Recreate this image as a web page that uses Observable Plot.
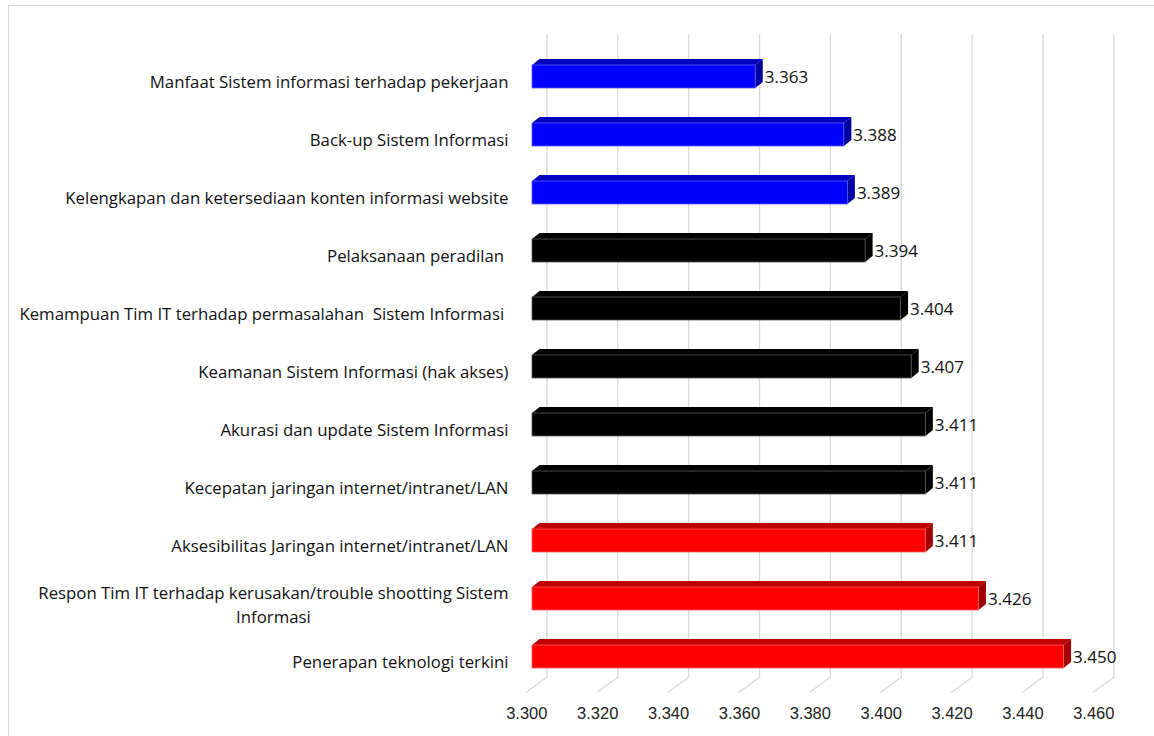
<!DOCTYPE html>
<html>
<head>
<meta charset="utf-8">
<script src="https://cdn.jsdelivr.net/npm/d3@7"></script>
<script src="https://cdn.jsdelivr.net/npm/@observablehq/plot@0.6"></script>
<style>
  html, body { margin: 0; padding: 0; background: #fff; }
  #wrap { position: relative; width: 1154px; height: 736px; overflow: hidden; }
  #border { position: absolute; left: 8px; top: 5px; width: 1200px; height: 800px;
            border-top: 1.5px solid #d9d9d9; border-left: 1.5px solid #d9d9d9; }
  #chart { position: absolute; left: 0; top: 0; }
</style>
</head>
<body>
<div id="wrap"><div id="border"></div><div id="chart"></div></div>
<script>
// ---- data ----
const categories = [
  "Manfaat Sistem informasi terhadap pekerjaan",
  "Back-up Sistem Informasi",
  "Kelengkapan dan ketersediaan konten informasi website",
  "Pelaksanaan peradilan\u00a0",
  "Kemampuan Tim IT terhadap permasalahan \u00a0Sistem Informasi\u00a0",
  "Keamanan Sistem Informasi (hak akses)",
  "Akurasi dan update Sistem Informasi",
  "Kecepatan jaringan internet/intranet/LAN",
  "Aksesibilitas Jaringan internet/intranet/LAN",
  "Respon Tim IT terhadap kerusakan/trouble shootting Sistem\nInformasi",
  "Penerapan teknologi terkini"
];
const values = [3.363, 3.388, 3.389, 3.394, 3.404, 3.407, 3.411, 3.411, 3.411, 3.426, 3.450];
const groups = ["biru", "biru", "biru", "hitam", "hitam", "hitam", "hitam", "hitam", "merah", "merah", "merah"];
const xTicks = [3.300, 3.320, 3.340, 3.360, 3.380, 3.400, 3.420, 3.440, 3.460];

const rows = categories.map((label, i) => ({label, value: values[i], group: groups[i], base: xTicks[0]}));
const fmt = d3.format(".3f");

// 3D effect for bars: top face + side face drawn from the rendered rects
const DX = 7.5, DY = 6;
function bars3d(index, scales, vals, dimensions, context, next) {
  const g = next(index, scales, vals, dimensions, context);
  const ns = "http://www.w3.org/2000/svg";
  for (const r of Array.from(g.querySelectorAll("rect"))) {
    const x = +r.getAttribute("x"), y = +r.getAttribute("y");
    const w = +r.getAttribute("width"), h = +r.getAttribute("height");
    const c = r.getAttribute("fill");
    const top = document.createElementNS(ns, "polygon");
    top.setAttribute("points", `${x},${y} ${x + DX},${y - DY} ${x + w + DX},${y - DY} ${x + w},${y}`);
    top.setAttribute("fill", d3.color(c).darker(0.8).formatHex());
    const side = document.createElementNS(ns, "polygon");
    side.setAttribute("points", `${x + w},${y} ${x + w + DX},${y - DY} ${x + w + DX},${y + h - DY} ${x + w},${y + h}`);
    side.setAttribute("fill", d3.color(c).darker(1.3).formatHex());
    g.insertBefore(top, r);
    g.insertBefore(side, r);
    r.setAttribute("stroke", d3.interpolateRgb(c, "#fff")(0.35));
    r.setAttribute("stroke-width", 0.8);
  }
  return g;
}

// measure first line width of wrapped labels
const CAT_SIZE = 16.8;
const ctx = document.createElement("canvas").getContext("2d");
ctx.font = `${CAT_SIZE}px 'Open Sans'`;
function lineWidth(s) { return ctx.measureText(s).width; }

const single = rows.filter(d => !d.label.includes("\n"));
const multi = rows.filter(d => d.label.includes("\n"));
const LABEL_GAP = -24;

const noHead = {draw(context, l) { context.moveTo(0, 0); context.lineTo(0, -l); }};

const marks = [
  Plot.ruleX(xTicks, {x: d => d, dx: 14.4, insetTop: 6, insetBottom: 28.3, stroke: "#d9d9d9", strokeWidth: 1.3}),
  Plot.vector(xTicks, {x: d => d, frameAnchor: "bottom", dx: -6.3, dy: -13.3, length: 25.6, rotate: 54,
                       anchor: "start", shape: noHead, stroke: "#d9d9d9", strokeWidth: 1.3}),
  Plot.barX(rows, {x1: "base", x2: "value", y: "label", fill: "group", render: bars3d}),
  Plot.text(rows, {x: "value", y: "label", text: d => fmt(d.value), dx: DX + 1.5, dy: 1, textAnchor: "start",
                   fontFamily: "Open Sans", fontSize: 17, fill: "#111"}),
  Plot.text(single, {y: "label", text: "label", frameAnchor: "left", dx: LABEL_GAP, dy: 6, textAnchor: "end",
                     fontFamily: "Open Sans", fontSize: CAT_SIZE, fill: "#111"}),
  Plot.text(multi, {y: "label", text: d => d.label.split("\n")[0], frameAnchor: "left", dx: LABEL_GAP, dy: -5.5,
                    textAnchor: "end", fontFamily: "Open Sans", fontSize: CAT_SIZE, fill: "#111"}),
  ...multi.map(d => Plot.text([d], {y: "label", text: e => e.label.split("\n")[1], frameAnchor: "left",
                    dx: LABEL_GAP - lineWidth(d.label.split("\n")[0]) / 2, dy: 18.5, textAnchor: "middle",
                    fontFamily: "Open Sans", fontSize: CAT_SIZE, fill: "#111"})),
  Plot.text(xTicks, {x: d => d, frameAnchor: "bottom", dx: -5.7, dy: 13.5, text: d => fmt(d),
                     fontFamily: "Liberation Sans", fontSize: 16.5, fill: "#222"})
];

const chart = Plot.plot({
  width: 1154,
  height: 736,
  marginLeft: 532,
  marginRight: 55,
  marginTop: 28,
  marginBottom: 31,
  x: {domain: [xTicks[0], xTicks[xTicks.length - 1]], axis: null},
  y: {domain: categories, padding: 0.6, axis: null},
  color: {domain: ["biru", "hitam", "merah"], range: ["#0000ff", "#000000", "#ff0000"]},
  style: {background: "transparent", fontFamily: "Open Sans"},
  marks
});
document.getElementById("chart").appendChild(chart);
</script>
</body>
</html>
